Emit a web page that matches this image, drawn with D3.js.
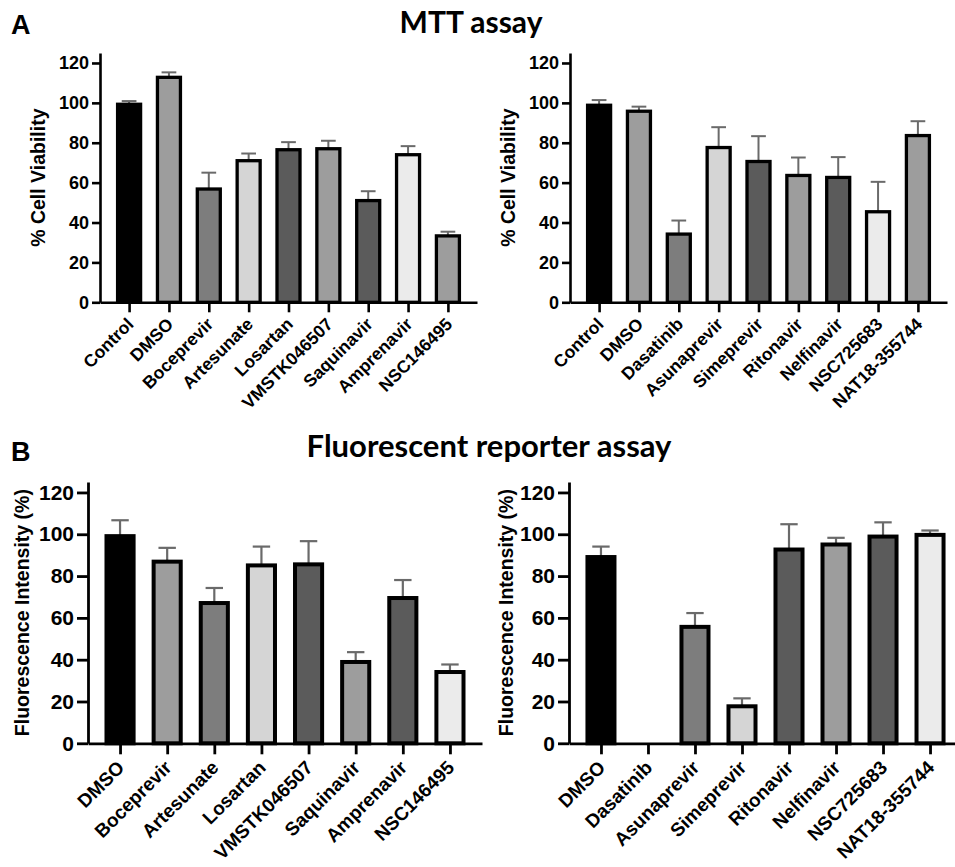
<!DOCTYPE html>
<html><head><meta charset="utf-8">
<script src="https://cdn.jsdelivr.net/npm/d3@7"></script>
<style>body{margin:0;background:#fff}svg{display:block}</style>
</head><body>
<svg id="c" width="955" height="867"></svg>
<script>
// ---------- DATA ----------
const yTicks = [0, 20, 40, 60, 80, 100, 120];

const catsA1 = ["Control","DMSO","Boceprevir","Artesunate","Losartan","VMSTK046507","Saquinavir","Amprenavir","NSC146495"];
const valsA1 = [99.3, 112.8, 56.8, 71, 76.5, 77, 51, 74, 33.3];
const errA1  = [1.6, 2.5, 8.2, 3.6, 3.8, 4, 4.7, 4.3, 2.1];

const catsA2 = ["Control","DMSO","Dasatinib","Asunaprevir","Simeprevir","Ritonavir","Nelfinavir","NSC725683","NAT18-355744"];
const valsA2 = [98.8, 95.8, 34.2, 77.6, 70.6, 63.6, 62.6, 45.4, 83.6];
const errA2  = [2.6, 2.3, 6.8, 10.2, 12.7, 9, 10.2, 15, 7.2];

const catsB1 = ["DMSO","Boceprevir","Artesunate","Losartan","VMSTK046507","Saquinavir","Amprenavir","NSC146495"];
const valsB1 = [99.1, 86.9, 67.1, 85.1, 85.6, 38.9, 69.5, 34.1];
const errB1  = [7.6, 6.6, 7.2, 9, 11.1, 4.7, 8.6, 3.6];

const catsB2 = ["DMSO","Dasatinib","Asunaprevir","Simeprevir","Ritonavir","Nelfinavir","NSC725683","NAT18-355744"];
const valsB2 = [89.1, 0, 55.7, 17.7, 92.7, 95.1, 98.9, 99.7];
const errB2  = [5, 0, 6.6, 3.8, 12.1, 3.2, 6.8, 2.1];

const titleA = "MTT assay";
const titleB = "Fluorescent reporter assay";
const ylabA = "% Cell Viability";
const ylabB = "Fluorescence Intensity (%)";

// ---------- STYLES ----------
const K = "#000000", D = "#5b5b5b", M = "#7d7d7d", G = "#9d9d9d", L = "#d5d5d5", W = "#ebebeb";
const fillsA1 = [K, G, M, L, D, G, D, W, G];
const fillsA2 = [K, G, M, L, D, G, D, W, G];
const fillsB1 = [K, G, M, L, D, G, D, W];
const fillsB2 = [K, M, M, L, D, G, D, W];

const svg = d3.select("#c");
const FONT = "'Liberation Sans', Arial, sans-serif";

function panel(cfg) {
  const g = svg.append("g");
  const x = d3.scalePoint().domain(cfg.cats).range([cfg.x0, cfg.x1]).padding(cfg.pad);
  const y = d3.scaleLinear().domain([0, 125]).range([cfg.y0, cfg.yTop]);
  const bw = x.step() * 0.66;
  const sw = cfg.sw;
  const data = cfg.cats.map((c, i) => ({c, v: cfg.vals[i], e: cfg.errs[i], f: cfg.fills[i]}));

  // error bars
  const eb = g.append("g").attr("stroke", "#6a6a6a").attr("stroke-width", cfg.ew);
  data.filter(d => d.v > 0).forEach(d => {
    eb.append("line").attr("x1", x(d.c)).attr("x2", x(d.c)).attr("y1", y(d.v)).attr("y2", y(d.v + d.e));
    eb.append("line").attr("x1", x(d.c) - bw * 0.28).attr("x2", x(d.c) + bw * 0.28)
      .attr("y1", y(d.v + d.e)).attr("y2", y(d.v + d.e));
  });

  // bars
  g.append("g").selectAll("rect").data(data.filter(d => d.v > 0)).join("rect")
    .attr("x", d => x(d.c) - (bw - sw) / 2)
    .attr("width", bw - sw)
    .attr("y", d => y(d.v))
    .attr("height", d => y(0) - y(d.v))
    .attr("fill", d => d.f)
    .attr("stroke", "#000").attr("stroke-width", sw);

  // y axis
  const ya = g.append("g").attr("transform", `translate(${cfg.x0},0)`)
    .call(d3.axisLeft(y).tickValues(yTicks).tickSize(cfg.ytl).tickSizeOuter(0).tickPadding(3));
  ya.select(".domain").attr("stroke-width", cfg.aw);
  ya.selectAll(".tick line").attr("stroke-width", cfg.aw);
  ya.selectAll(".tick text").attr("font-family", FONT).attr("font-weight", "bold")
    .attr("font-size", cfg.tf).attr("fill", "#000");

  // x axis
  const xa = g.append("g").attr("transform", `translate(0,${cfg.y0})`)
    .call(d3.axisBottom(x).tickSize(cfg.xtl).tickSizeOuter(0));
  xa.select(".domain").attr("stroke-width", cfg.aw);
  xa.selectAll(".tick line").attr("stroke-width", cfg.aw);
  xa.selectAll(".tick text")
    .attr("font-family", FONT).attr("font-weight", "bold").attr("font-size", cfg.lf).attr("fill", "#000")
    .attr("text-anchor", "end").attr("y", 0).attr("dy", 0)
    .attr("transform", `translate(${cfg.lx},${cfg.ly}) rotate(-45)`);

  // y label
  g.append("text").attr("transform", `translate(${cfg.ylx},${(cfg.y0 + y(125)) / 2 + cfg.yly}) rotate(-90)`)
    .attr("text-anchor", "middle").attr("dy", "0.35em")
    .attr("font-family", FONT).attr("font-weight", "bold").attr("font-size", cfg.ylf)
    .text(cfg.ylab);
}

const A = {y0: 302.3, yTop: 53, pad: 0.73, sw: 3.3, ew: 2, aw: 2.6, ytl: 8, xtl: 10, tf: 18, lf: 17.5, lx: 5, ly: 23, ylf: 19.5, yly: 0};
const B = {y0: 743.3, yTop: 482, pad: 0.68, sw: 4, ew: 2.2, aw: 2.8, ytl: 11, xtl: 11, tf: 21, lf: 19, lx: 5, ly: 25.5, ylf: 19.5, yly: 0};

panel(Object.assign({}, A, {cats: catsA1, vals: valsA1, errs: errA1, fills: fillsA1, x0: 100, x1: 477, ylx: 38, ylab: ylabA}));
panel(Object.assign({}, A, {cats: catsA2, vals: valsA2, errs: errA2, fills: fillsA2, x0: 570, x1: 947, ylx: 508, ylab: ylabA}));
panel(Object.assign({}, B, {cats: catsB1, vals: valsB1, errs: errB1, fills: fillsB1, x0: 88, x1: 482, ylx: 22, ylab: ylabB}));
panel(Object.assign({}, B, {cats: catsB2, vals: valsB2, errs: errB2, fills: fillsB2, x0: 569, x1: 962, ylx: 506, ylab: ylabB}));

// titles and panel letters
const TFONT = "Lato, 'Open Sans', sans-serif";
svg.append("text").attr("x", 471).attr("y", 33).attr("text-anchor", "middle")
  .attr("font-family", TFONT).attr("font-weight", "bold").attr("font-size", 30).text(titleA);
svg.append("text").attr("x", 489).attr("y", 457).attr("text-anchor", "middle")
  .attr("font-family", TFONT).attr("font-weight", "bold").attr("font-size", 31).text(titleB);
svg.append("text").attr("x", 11).attr("y", 34)
  .attr("font-family", FONT).attr("font-weight", "bold").attr("font-size", 27).text("A");
svg.append("text").attr("x", 11).attr("y", 461)
  .attr("font-family", FONT).attr("font-weight", "bold").attr("font-size", 27).text("B");
</script>
</body></html>
